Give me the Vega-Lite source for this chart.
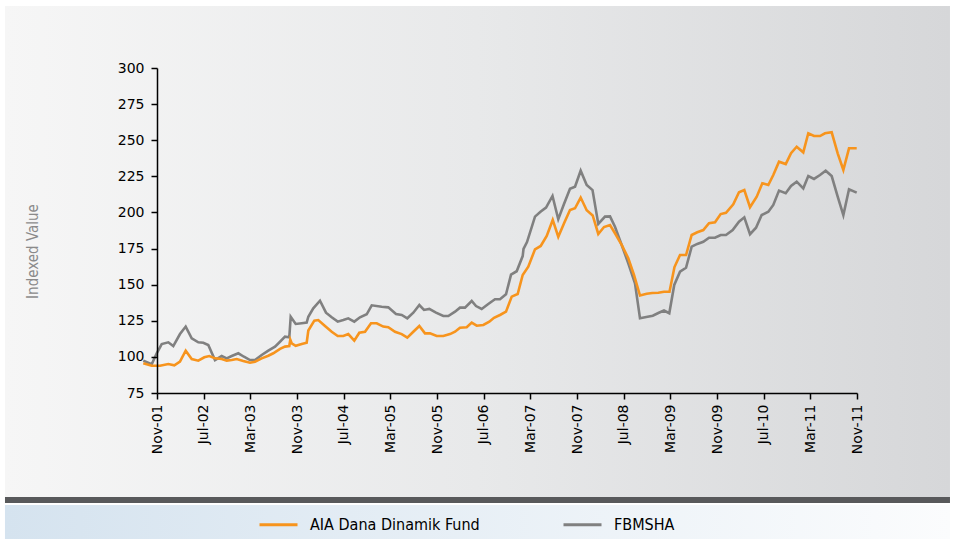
{
"$schema": "https://vega.github.io/schema/vega-lite/v6.json",
"width": 700, "height": 325,
"autosize": {"type": "none"},
"padding": {"left": 157, "top": 68, "right": 97, "bottom": 146},
"background": "#ffffff",
"config": {"view": {"stroke": null}},
"datasets": {
"aia": [{"m":-2.35,"v":95.6},{"m":-0.91,"v":93.9},{"m":0.51,"v":93.9},{"m":1.94,"v":95.1},{"m":2.97,"v":94.2},{"m":3.94,"v":96.7},{"m":4.92,"v":104.3},{"m":5.95,"v":98.5},{"m":7.08,"v":97.4},{"m":8.11,"v":99.7},{"m":8.97,"v":100.6},{"m":9.94,"v":99.0},{"m":11.09,"v":98.5},{"m":11.95,"v":97.4},{"m":12.81,"v":97.8},{"m":13.66,"v":98.5},{"m":14.79,"v":97.2},{"m":15.94,"v":96.0},{"m":16.8,"v":96.7},{"m":17.95,"v":99.0},{"m":19.08,"v":100.8},{"m":19.94,"v":102.5},{"m":21.09,"v":105.5},{"m":21.94,"v":107.1},{"m":22.68,"v":107.5},{"m":22.85,"v":111.9},{"m":23.09,"v":109.4},{"m":23.78,"v":107.7},{"m":24.81,"v":108.9},{"m":25.66,"v":109.8},{"m":25.94,"v":118.3},{"m":26.97,"v":125.1},{"m":27.65,"v":125.5},{"m":28.8,"v":121.4},{"m":29.95,"v":117.4},{"m":30.98,"v":114.5},{"m":31.94,"v":114.5},{"m":32.79,"v":115.8},{"m":33.82,"v":111.2},{"m":34.68,"v":116.7},{"m":35.66,"v":117.4},{"m":36.69,"v":123.3},{"m":37.66,"v":123.3},{"m":38.79,"v":121.0},{"m":39.65,"v":120.5},{"m":40.8,"v":117.4},{"m":41.95,"v":115.8},{"m":42.91,"v":113.3},{"m":43.94,"v":117.4},{"m":44.97,"v":121.4},{"m":45.94,"v":116.3},{"m":46.8,"v":116.3},{"m":47.95,"v":114.5},{"m":49.08,"v":114.5},{"m":50.23,"v":115.8},{"m":51.09,"v":117.4},{"m":51.94,"v":120.2},{"m":53.09,"v":120.5},{"m":53.95,"v":123.7},{"m":54.81,"v":121.6},{"m":55.94,"v":122.1},{"m":56.97,"v":124.4},{"m":57.77,"v":127.1},{"m":58.8,"v":129.0},{"m":59.83,"v":131.3},{"m":60.81,"v":141.7},{"m":61.83,"v":143.5},{"m":62.69,"v":156.7},{"m":63.65,"v":162.4},{"m":64.8,"v":174.5},{"m":65.78,"v":176.8},{"m":66.81,"v":183.7},{"m":67.84,"v":194.8},{"m":68.79,"v":183.2},{"m":69.82,"v":192.9},{"m":70.8,"v":201.7},{"m":71.66,"v":202.9},{"m":72.63,"v":210.3},{"m":73.66,"v":201.5},{"m":74.69,"v":197.9},{"m":75.65,"v":185.1},{"m":76.63,"v":189.9},{"m":77.66,"v":191.3},{"m":78.51,"v":185.6},{"m":79.66,"v":177.5},{"m":80.79,"v":168.3},{"m":81.77,"v":156.7},{"m":82.8,"v":142.5},{"m":83.95,"v":143.7},{"m":84.91,"v":144.2},{"m":85.94,"v":144.4},{"m":86.91,"v":145.1},{"m":87.86,"v":145.1},{"m":88.71,"v":162.2},{"m":89.66,"v":170.5},{"m":90.69,"v":170.5},{"m":91.66,"v":184.4},{"m":92.62,"v":186.3},{"m":93.65,"v":187.8},{"m":94.63,"v":192.5},{"m":95.66,"v":193.2},{"m":96.63,"v":198.9},{"m":97.54,"v":199.8},{"m":98.79,"v":205.6},{"m":99.77,"v":214.0},{"m":100.68,"v":215.5},{"m":101.66,"v":203.6},{"m":102.81,"v":210.9},{"m":103.77,"v":220.2},{"m":104.8,"v":219.0},{"m":105.65,"v":225.9},{"m":106.63,"v":235.1},{"m":107.78,"v":233.5},{"m":108.69,"v":241.0},{"m":109.66,"v":245.5},{"m":110.79,"v":241.6},{"m":111.65,"v":254.8},{"m":112.63,"v":252.9},{"m":113.66,"v":252.9},{"m":114.51,"v":254.8},{"m":115.66,"v":255.5},{"m":116.69,"v":240.9},{"m":117.66,"v":229.4},{"m":118.63,"v":244.4},{"m":119.95,"v":244.4}],
"fbm": [{"m":-2.35,"v":97.4},{"m":-0.91,"v":94.9},{"m":-0.05,"v":102.5},{"m":0.81,"v":108.9},{"m":1.94,"v":110.1},{"m":2.79,"v":107.5},{"m":3.94,"v":115.8},{"m":4.92,"v":121.0},{"m":5.95,"v":112.9},{"m":7.08,"v":110.1},{"m":7.94,"v":109.8},{"m":8.79,"v":108.2},{"m":9.94,"v":97.8},{"m":11.09,"v":100.6},{"m":11.95,"v":99.0},{"m":12.81,"v":100.6},{"m":13.94,"v":102.5},{"m":14.91,"v":100.1},{"m":15.94,"v":97.8},{"m":16.8,"v":97.8},{"m":17.95,"v":101.3},{"m":19.08,"v":104.3},{"m":20.23,"v":107.1},{"m":21.09,"v":110.5},{"m":21.94,"v":114.0},{"m":22.68,"v":113.6},{"m":22.92,"v":127.8},{"m":23.78,"v":122.8},{"m":24.81,"v":123.3},{"m":25.66,"v":123.7},{"m":25.94,"v":127.8},{"m":26.79,"v":133.6},{"m":27.94,"v":138.9},{"m":28.97,"v":130.6},{"m":29.95,"v":127.4},{"m":30.98,"v":124.4},{"m":31.94,"v":125.5},{"m":32.79,"v":126.7},{"m":33.82,"v":124.4},{"m":34.8,"v":127.4},{"m":35.95,"v":129.5},{"m":36.81,"v":135.7},{"m":38.52,"v":134.7},{"m":39.65,"v":134.3},{"m":40.97,"v":129.7},{"m":41.95,"v":129.0},{"m":42.91,"v":126.7},{"m":43.94,"v":130.6},{"m":44.97,"v":135.9},{"m":45.77,"v":132.5},{"m":46.68,"v":133.2},{"m":47.83,"v":130.6},{"m":49.08,"v":128.3},{"m":49.94,"v":128.3},{"m":51.09,"v":131.3},{"m":51.94,"v":134.1},{"m":52.8,"v":134.1},{"m":53.95,"v":138.7},{"m":54.69,"v":135.2},{"m":55.66,"v":133.2},{"m":56.79,"v":136.6},{"m":57.94,"v":139.9},{"m":58.8,"v":139.9},{"m":59.83,"v":143.4},{"m":60.69,"v":157.0},{"m":61.66,"v":159.3},{"m":62.69,"v":169.8},{"m":62.83,"v":174.7},{"m":63.43,"v":179.5},{"m":64.8,"v":197.1},{"m":65.74,"v":200.5},{"m":66.69,"v":203.4},{"m":67.8,"v":211.4},{"m":68.79,"v":195.3},{"m":69.77,"v":205.8},{"m":70.8,"v":216.4},{"m":71.66,"v":217.8},{"m":72.63,"v":228.9},{"m":73.66,"v":219.0},{"m":74.66,"v":215.5},{"m":75.65,"v":192.0},{"m":76.8,"v":197.1},{"m":77.66,"v":197.3},{"m":78.51,"v":190.1},{"m":79.66,"v":177.5},{"m":80.79,"v":164.8},{"m":81.94,"v":150.9},{"m":82.8,"v":126.7},{"m":83.88,"v":127.6},{"m":84.99,"v":128.5},{"m":85.94,"v":130.4},{"m":86.91,"v":132.1},{"m":87.82,"v":130.2},{"m":88.67,"v":149.8},{"m":89.66,"v":159.0},{"m":90.69,"v":161.7},{"m":91.66,"v":176.3},{"m":92.62,"v":178.2},{"m":93.65,"v":179.7},{"m":94.63,"v":182.5},{"m":95.66,"v":182.5},{"m":96.63,"v":184.4},{"m":97.54,"v":184.4},{"m":98.69,"v":187.8},{"m":99.77,"v":193.6},{"m":100.68,"v":196.6},{"m":101.66,"v":184.9},{"m":102.69,"v":189.4},{"m":103.66,"v":198.2},{"m":104.8,"v":200.5},{"m":105.65,"v":205.2},{"m":106.63,"v":215.1},{"m":107.78,"v":213.3},{"m":108.69,"v":218.3},{"m":109.66,"v":221.3},{"m":110.79,"v":216.7},{"m":111.65,"v":225.2},{"m":112.63,"v":223.2},{"m":113.66,"v":225.9},{"m":114.63,"v":228.9},{"m":115.66,"v":225.2},{"m":116.69,"v":210.9},{"m":117.66,"v":198.2},{"m":118.63,"v":216.0},{"m":119.95,"v":213.7}]
},
"layer": [
{
"data": {"values": [{}]},
"mark": {"type": "rect", "color": {"gradient": "linear", "x1": 0, "y1": 0, "x2": 1, "y2": 0, "stops": [{"offset": 0, "color": "#f6f6f6"}, {"offset": 0.5, "color": "#e8e9ea"}, {"offset": 1, "color": "#d6d7d9"}]}},
"encoding": {
"x": {"datum": -26.06, "type": "quantitative", "scale": {"domain": [0, 120], "nice": false, "zero": false},
"axis": {"values": [0,8,16,24,32,40,48,56,64,72,80,88,96,104,112,120], "tickCount": 20, "labelExpr": "timeFormat(datetime(2001, 10 + datum.value, 1), '%b-%y')", "labelAngle": 270, "labelAlign": "right", "labelBaseline": "middle", "labelPadding": 5, "tickSize": 6, "tickColor": "#000000", "tickWidth": 1.5, "domainColor": "#000000", "domainWidth": 1.5, "labelFont": "DejaVu Sans", "labelFontSize": 14, "labelColor": "#000000", "grid": false, "title": null, "zindex": 1, "labelOverlap": false, "labelBound": false, "labelFlush": false}},
"x2": {"datum": 135.94},
"y": {"datum": 342.9, "type": "quantitative", "scale": {"domain": [75, 300], "nice": false, "zero": false},
"axis": {"values": [75,100,125,150,175,200,225,250,275,300], "tickCount": 12, "labelPadding": 7, "tickSize": 6, "tickColor": "#000000", "tickWidth": 1.5, "domainColor": "#000000", "domainWidth": 1.5, "labelFont": "DejaVu Sans", "labelFontSize": 14, "labelColor": "#000000", "grid": false, "zindex": 1, "labelFlush": false, "labelBound": false, "labelOverlap": false,
"title": "Indexed Value", "titleAngle": 270, "titleX": -125, "titleY": 183, "titleAlign": "center", "titleBaseline": "middle", "titleColor": "#8a8a8a", "titleFont": "DejaVu Sans Condensed, Liberation Sans Narrow, sans-serif", "titleFontSize": 15, "titleFontWeight": "normal"}},
"y2": {"datum": 3.0}
}
},
{
"data": {"values": [{}]},
"mark": {"type": "rect", "color": "#58595b"},
"encoding": {"x": {"datum": -26.06, "type": "quantitative"}, "x2": {"datum": 135.94}, "y": {"datum": 3.0, "type": "quantitative"}, "y2": {"datum": -1.15}}
},
{
"data": {"values": [{}]},
"mark": {"type": "rect", "color": {"gradient": "linear", "x1": 0, "y1": 0, "x2": 1, "y2": 0, "stops": [{"offset": 0, "color": "#d5e3ef"}, {"offset": 1, "color": "#fbfcfd"}]}},
"encoding": {"x": {"datum": -26.06, "type": "quantitative"}, "x2": {"datum": 135.94}, "y": {"datum": -2.5, "type": "quantitative"}, "y2": {"datum": -27}}
},
{
"data": {"name": "fbm"},
"mark": {"type": "line", "strokeWidth": 2.6},
"encoding": {"x": {"field": "m", "type": "quantitative"}, "y": {"field": "v", "type": "quantitative"},
"color": {"datum": "FBMSHA", "type": "nominal",
"scale": {"domain": ["AIA Dana Dinamik Fund", "FBMSHA"], "range": ["#f7941d", "#808080"]},
"legend": {"title": null, "orient": "none", "legendX": 101, "legendY": 436, "direction": "horizontal", "symbolType": "stroke", "symbolSize": 1444, "symbolStrokeWidth": 3, "labelOffset": 11, "columnPadding": 77, "labelLimit": 400, "labelFont": "DejaVu Sans Condensed, Liberation Sans Narrow, sans-serif", "labelFontSize": 16, "labelColor": "#000000", "zindex": 1}}}
},
{
"data": {"name": "aia"},
"mark": {"type": "line", "strokeWidth": 2.6},
"encoding": {"x": {"field": "m", "type": "quantitative"}, "y": {"field": "v", "type": "quantitative"},
"color": {"datum": "AIA Dana Dinamik Fund", "type": "nominal"}}
}
]
}
